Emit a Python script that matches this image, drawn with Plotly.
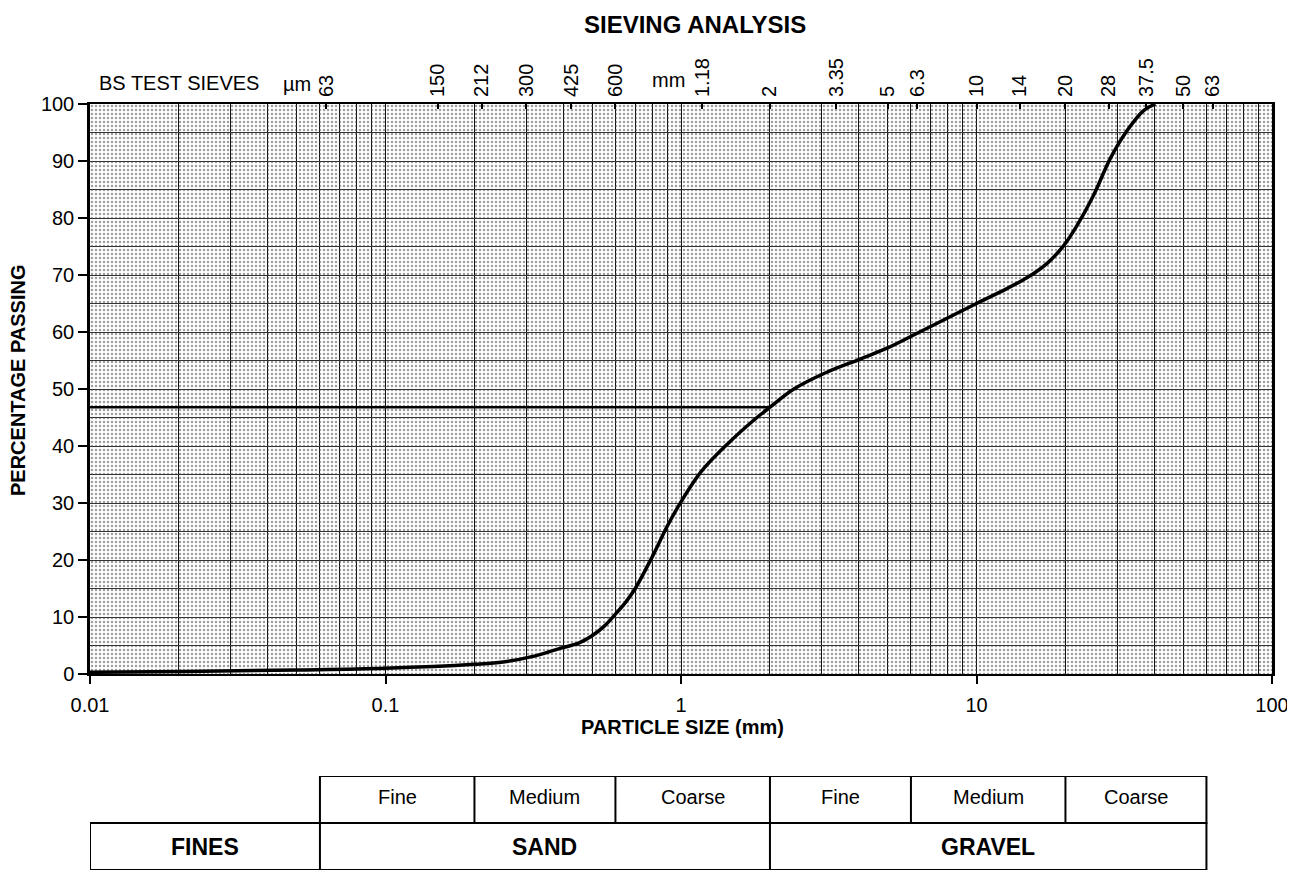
import math
import plotly.graph_objects as go

# ---------------- data ----------------
particle_size_mm = [0.01, 0.021, 0.05, 0.1, 0.2, 0.25, 0.31, 0.39, 0.45, 0.5, 0.55, 0.6, 0.65, 0.7,
                    0.8, 0.9, 1.0, 1.17, 1.44, 1.77, 2.0, 2.41, 3.1, 4.06, 5.0, 6.2, 7.8, 10, 12,
                    14.8, 17.3, 19.7, 21.9, 24.9, 28.4, 32.3, 36.7, 40.3]
percent_passing = [0.3, 0.45, 0.7, 1.0, 1.7, 2.1, 3.0, 4.5, 5.4, 6.7, 8.4, 10.5, 12.6, 15.0,
                   20.6, 26.0, 30.2, 35.5, 40.4, 44.6, 46.8, 50.0, 52.9, 55.3, 57.2, 59.6, 62.2, 65.0,
                   67.0, 69.5, 72.0, 75.1, 78.7, 84.0, 90.5, 95.3, 98.8, 100.0]

ref_size_mm = 2.0
ref_passing = 46.8

sieve_sizes_mm = [0.063, 0.15, 0.212, 0.3, 0.425, 0.6, 1.18, 2, 3.35, 5, 6.3, 10, 14, 20, 28, 37.5, 50, 63]
sieve_labels = ["63", "150", "212", "300", "425", "600", "1.18", "2", "3.35", "5", "6.3",
                "10", "14", "20", "28", "37.5", "50", "63"]

x_tick_vals = [0.01, 0.1, 1, 10, 100]
x_tick_text = ["0.01", "0.1", "1", "10", "100"]
y_tick_vals = list(range(0, 101, 10))

boundaries_mm = [0.06, 0.2, 0.6, 2, 6, 20, 60]
boundary_labels = ["0.06", "0.2", "0.6", "2", "6", "20", "60"]
sub_labels = ["Fine", "Medium", "Coarse", "Fine", "Medium", "Coarse"]
class_edges_mm = [0.01, 0.06, 2, 60]
class_labels = ["FINES", "SAND", "GRAVEL"]

X_RANGE = [0.01, 100]
Y_RANGE = [0, 100]

# ---------------- geometry helpers (layout only) ----------------
OFF = 8                      # page body margin
W, H = 1295 - OFF, 876 - OFF
ML = 90 - OFF                # plot left at window x = 90
MR = W - (1272 - OFF)        # plot right at window x = 1272
PW = W - ML - MR


def px(xw):
    """window x pixel -> paper x"""
    return (xw - OFF - ML) / PW


def py(yw):
    """window y pixel -> paper y"""
    return (H - (yw - OFF)) / H


PLOT_TOP, PLOT_BOT = 104, 674
TAB_TOP, TAB_BOT = 776, 870

FONT = "Liberation Sans, Arial, sans-serif"

fig = go.Figure()

# stippled background
fig.add_trace(go.Scatter(
    x=[X_RANGE[0], X_RANGE[1], X_RANGE[1], X_RANGE[0], X_RANGE[0]],
    y=[Y_RANGE[0], Y_RANGE[0], Y_RANGE[1], Y_RANGE[1], Y_RANGE[0]],
    mode="lines", line=dict(width=0), fill="toself",
    fillcolor="rgba(0,0,0,0)",
    fillpattern=dict(shape=".", fgcolor="#3c3c3c", bgcolor="rgba(0,0,0,0)", size=4, solidity=0.3),
    hoverinfo="skip", showlegend=False))

# reading line
fig.add_trace(go.Scatter(x=[X_RANGE[0], ref_size_mm], y=[ref_passing, ref_passing],
                         mode="lines", line=dict(color="black", width=2.5),
                         hoverinfo="skip", showlegend=False))

# grading curve
fig.add_trace(go.Scatter(x=particle_size_mm, y=percent_passing, mode="lines",
                         line=dict(color="black", width=3.5, shape="spline", smoothing=1.0),
                         showlegend=False))

# dummy trace for top sieve axis
fig.add_trace(go.Scatter(x=sieve_sizes_mm, y=[None] * len(sieve_sizes_mm), xaxis="x2",
                         mode="markers", showlegend=False, hoverinfo="skip"))

# ---------------- classification table ----------------
lg = [math.log10(b) for b in boundaries_mm]
lc = [math.log10(b) for b in class_edges_mm]
tx, ty = [], []
tx += [lc[0], lc[-1], lc[-1], lc[0], lc[0], None]
ty += [0, 0, 1, 1, 0, None]
for e in lc[1:-1]:
    tx += [e, e, None]
    ty += [0, 1, None]
tx += [lg[0], lg[-1], lg[-1], lg[0], lg[0], None]
ty += [1, 1, 2, 2, 1, None]
for e in lg[1:-1]:
    tx += [e, e, None]
    ty += [1, 2, None]
fig.add_trace(go.Scatter(x=tx, y=ty, xaxis="x3", yaxis="y3", mode="lines",
                         line=dict(color="black", width=2), hoverinfo="skip",
                         showlegend=False, cliponaxis=False))

ann = []


def note(x, y, text, size, xref="paper", yref="paper", **kw):
    d = dict(x=x, y=y, xref=xref, yref=yref, text=text, showarrow=False,
             xanchor=kw.pop("xanchor", "center"), yanchor=kw.pop("yanchor", "middle"),
             font=dict(size=size, family=FONT, color="black"))
    d.update(kw)
    ann.append(d)


for i, lab in enumerate(sub_labels):
    note((lg[i] + lg[i + 1]) / 2, 1.55, lab, 20, "x3", "y3")
for i, lab in enumerate(class_labels):
    note((lc[i] + lc[i + 1]) / 2, 0.5, "<b>%s</b>" % lab, 23, "x3", "y3")
for v, lab in zip(lg, boundary_labels):
    note(v, 2.34, lab, 20, "x3", "y3")

# titles and texts
note(px(695), py(24), "<b>SIEVING ANALYSIS</b>", 24)
note(px(682), py(727), "<b>PARTICLE SIZE (mm)</b>", 20)
note(px(18), py(380), "<b>PERCENTAGE PASSING</b>", 20, textangle=-90)
note(px(97), py(83), "BS TEST SIEVES", 20, xanchor="left")
note(px(297), py(84), "\u00b5m", 20)
note(px(668), py(80), "mm", 20)

minor_vals = [m * 10 ** d for d in range(-2, 2) for m in range(2, 10)]

fig.update_layout(
    width=W, height=H,
    margin=dict(l=ML, r=MR, t=0, b=0, autoexpand=False),
    paper_bgcolor="white", plot_bgcolor="white",
    font=dict(family=FONT, color="black"),
    showlegend=False,
    xaxis=dict(type="log", range=[math.log10(X_RANGE[0]), math.log10(X_RANGE[1])],
               domain=[0, 1], tickvals=x_tick_vals, ticktext=x_tick_text,
               ticks="outside", ticklen=8, tickwidth=2, tickcolor="black",
               tickfont=dict(size=20), ticklabelstandoff=4, automargin=False,
               showline=True, linecolor="black", linewidth=2, mirror=True,
               showgrid=True, gridcolor="#111", gridwidth=1.2,
               minor=dict(tickvals=minor_vals, showgrid=True, gridcolor="#111", gridwidth=1.2, ticks=""),
               zeroline=False, anchor="y"),
    xaxis2=dict(type="log", range=[math.log10(X_RANGE[0]), math.log10(X_RANGE[1])],
                overlaying="x", side="top", anchor="y", tickvals=sieve_sizes_mm, ticktext=sieve_labels,
                tickangle=-90, ticks="inside", ticklen=5, tickwidth=2, tickcolor="black",
                tickfont=dict(size=20), ticklabelstandoff=6, automargin=False,
                showgrid=False, showline=False, zeroline=False),
    yaxis=dict(range=Y_RANGE, domain=[py(PLOT_BOT), py(PLOT_TOP)], tickvals=y_tick_vals,
               ticks="outside", ticklen=9, tickwidth=2, tickcolor="black", tickfont=dict(size=20),
               automargin=False,
               showline=True, linecolor="black", linewidth=2.5, mirror=True,
               showgrid=True, gridcolor="#333", gridwidth=1,
               minor=dict(dtick=5, showgrid=True, gridcolor="#333", gridwidth=1, ticks=""),
               zeroline=False, anchor="x"),
    xaxis3=dict(range=[-2, 2], domain=[0, 1], anchor="y3", visible=False, automargin=False),
    yaxis3=dict(range=[0, 2], domain=[py(TAB_BOT), py(TAB_TOP)], anchor="x3", visible=False,
                automargin=False),
    annotations=ann,
)

fig.write_html("out.html")
